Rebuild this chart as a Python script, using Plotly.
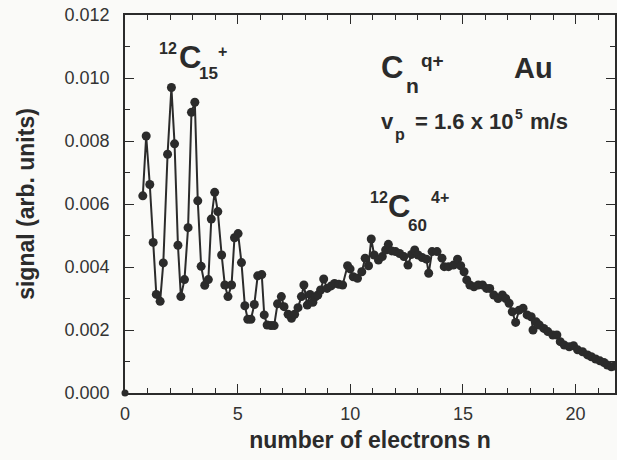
import plotly.graph_objects as go

# number of electrons n
n_values = [0.79, 0.94, 1.10, 1.25, 1.39, 1.56, 1.70, 1.89, 2.06, 2.20, 2.35, 2.48, 2.64, 2.80, 2.95,
            3.10, 3.23, 3.38, 3.54, 3.70, 3.83, 3.98, 4.12, 4.29, 4.43, 4.57, 4.73, 4.86, 5.02, 5.17,
            5.32, 5.45, 5.59, 5.74, 5.89, 6.07, 6.18, 6.31, 6.48, 6.62, 6.77, 6.94, 7.06, 7.24, 7.39,
            7.53, 7.68, 7.83, 7.94, 8.09, 8.21, 8.34, 8.45, 8.56, 8.68, 8.82, 8.97, 9.15, 9.30, 9.49,
            9.66, 9.88, 9.99, 10.13, 10.32, 10.51, 10.66, 10.81, 10.93, 11.06, 11.25, 11.42, 11.57,
            11.69, 11.84, 12.01, 12.19, 12.38, 12.56, 12.72, 12.86, 13.01, 13.19, 13.38, 13.48, 13.63,
            13.85, 14.07, 14.17, 14.36, 14.58, 14.76, 14.90, 15.05, 15.17, 15.31, 15.49, 15.68, 15.87,
            16.05, 16.19, 16.37, 16.56, 16.75, 16.90, 17.05, 17.19, 17.34, 17.49, 17.67, 17.85, 18.03,
            18.11, 18.25, 18.39, 18.59, 18.77, 18.99, 19.17, 19.32, 19.50, 19.72, 19.91, 20.09, 20.31,
            20.53, 20.70, 20.89, 21.08, 21.26, 21.41, 21.59, 21.74]

# signal (arb. units)
signal = [0.00626, 0.00816, 0.00662, 0.00478, 0.00313, 0.00291, 0.00413, 0.00758, 0.00970, 0.00791,
          0.00469, 0.00306, 0.00360, 0.00525, 0.00891, 0.00923, 0.00610, 0.00402, 0.00342, 0.00360,
          0.00552, 0.00637, 0.00576, 0.00438, 0.00343, 0.00306, 0.00343, 0.00493, 0.00506, 0.00414,
          0.00277, 0.00234, 0.00234, 0.00281, 0.00372, 0.00376, 0.00248, 0.00216, 0.00214, 0.00214,
          0.00283, 0.00306, 0.00274, 0.00250, 0.00237, 0.00250, 0.00271, 0.00306, 0.00343, 0.00279,
          0.00313, 0.00288, 0.00305, 0.00311, 0.00327, 0.00362, 0.00332, 0.00340, 0.00348, 0.00345,
          0.00343, 0.00404, 0.00394, 0.00369, 0.00364, 0.00385, 0.00428, 0.00404, 0.00489, 0.00438,
          0.00422, 0.00433, 0.00454, 0.00472, 0.00451, 0.00449, 0.00443, 0.00433, 0.00406, 0.00440,
          0.00454, 0.00438, 0.00430, 0.00425, 0.00380, 0.00449, 0.00449, 0.00428, 0.00401, 0.00401,
          0.00406, 0.00425, 0.00404, 0.00385, 0.00359, 0.00343, 0.00337, 0.00343, 0.00343, 0.00332,
          0.00332, 0.00311, 0.00300, 0.00311, 0.00300, 0.00285, 0.00258, 0.00224, 0.00263, 0.00269,
          0.00248, 0.00242, 0.00200, 0.00226, 0.00216, 0.00205, 0.00195, 0.00184, 0.00184, 0.00163,
          0.00152, 0.00147, 0.00150, 0.00137, 0.00131, 0.00121, 0.00115, 0.00108, 0.00102, 0.00097,
          0.00089, 0.00083, 0.00086]

origin_n = [0.0]
origin_signal = [0.0]

x_ticks = [0, 5, 10, 15, 20]
y_ticks = [0.000, 0.002, 0.004, 0.006, 0.008, 0.010, 0.012]

INK = "#2b2b2b"
FONT = "Liberation Sans, Arial, Helvetica, sans-serif"

fig = go.Figure()
fig.add_trace(go.Scatter(x=n_values, y=signal, mode="lines+markers",
                         line=dict(color=INK, width=2),
                         marker=dict(color=INK, size=9), showlegend=False))
fig.add_trace(go.Scatter(x=origin_n, y=origin_signal, mode="markers",
                         marker=dict(color=INK, size=7), showlegend=False, cliponaxis=False))

L, T, W, H = 125, 15, 492, 378


def px(xp, yp):
    return (xp - L) / W, (T + H - yp) / H


def label(text, xp, yp, size):
    ax_, ay_ = px(xp, yp)
    fig.add_annotation(text=text, x=ax_, y=ay_, xref="paper", yref="paper",
                       xanchor="center", yanchor="middle", showarrow=False,
                       font=dict(family=FONT, size=size, color=INK))


# 12C15+
label("<b>12</b>", 168.5, 48, 16)
label("<b>C</b>", 190, 57, 31)
label("<b>15</b>", 209, 74, 17)
label("<b>+</b>", 223, 51, 16)
# Cn q+
label("<b>C</b>", 393, 67, 31)
label("<b>n</b>", 414, 86, 21)
label("<b>q+</b>", 434, 60, 19)
# Au
label("<b>Au</b>", 535, 68, 29)
# vp = 1.6 x 10^5 m/s
label("<b>v</b>", 389, 121, 22)
label("<b>p</b>", 401, 134, 16)
label("<b>= 1.6 x 10</b>", 465, 121, 22)
label("<b>5</b>", 521, 114, 14)
label("<b>m/s</b>", 551, 121, 22)
# 12C60 4+
label("<b>12</b>", 380, 198, 16)
label("<b>C</b>", 400, 206, 31)
label("<b>60</b>", 419, 225, 17)
label("<b>4+</b>", 441, 198, 16)

fig.update_layout(
    width=617, height=460,
    margin=dict(l=L, r=617 - L - W, t=T, b=460 - T - H),
    paper_bgcolor="#fafaf8", plot_bgcolor="#fafaf8",
    font=dict(family=FONT, color=INK),
)
fig.update_xaxes(range=[0, 21.75], tickvals=x_ticks, ticks="inside", ticklen=9, tickwidth=1.4,
                 tickcolor=INK, showline=True, linecolor=INK, linewidth=1.6, mirror="ticks",
                 showgrid=False, zeroline=False, tickfont=dict(size=18, color="#333333"),
                 ticklabelstandoff=4,
                 minor=dict(ticks="inside", dtick=1, ticklen=5, tickwidth=1.2, tickcolor=INK, showgrid=False),
                 title=dict(text="<b>number of electrons n</b>", font=dict(size=23, color=INK), standoff=8))
fig.update_yaxes(range=[0, 0.012], tickvals=y_ticks, tickformat=".3f", ticks="inside", ticklen=9,
                 tickwidth=1.4, tickcolor=INK, showline=True, linecolor=INK, linewidth=1.6,
                 mirror="ticks", showgrid=False, zeroline=False, tickfont=dict(size=18, color="#333333"),
                 ticklabelstandoff=10,
                 minor=dict(ticks="inside", dtick=0.001, ticklen=5, tickwidth=1.2, tickcolor=INK, showgrid=False),
                 title=dict(text="<b>signal (arb. units)</b>", font=dict(size=23, color=INK), standoff=24))

fig.write_html("out.html")
